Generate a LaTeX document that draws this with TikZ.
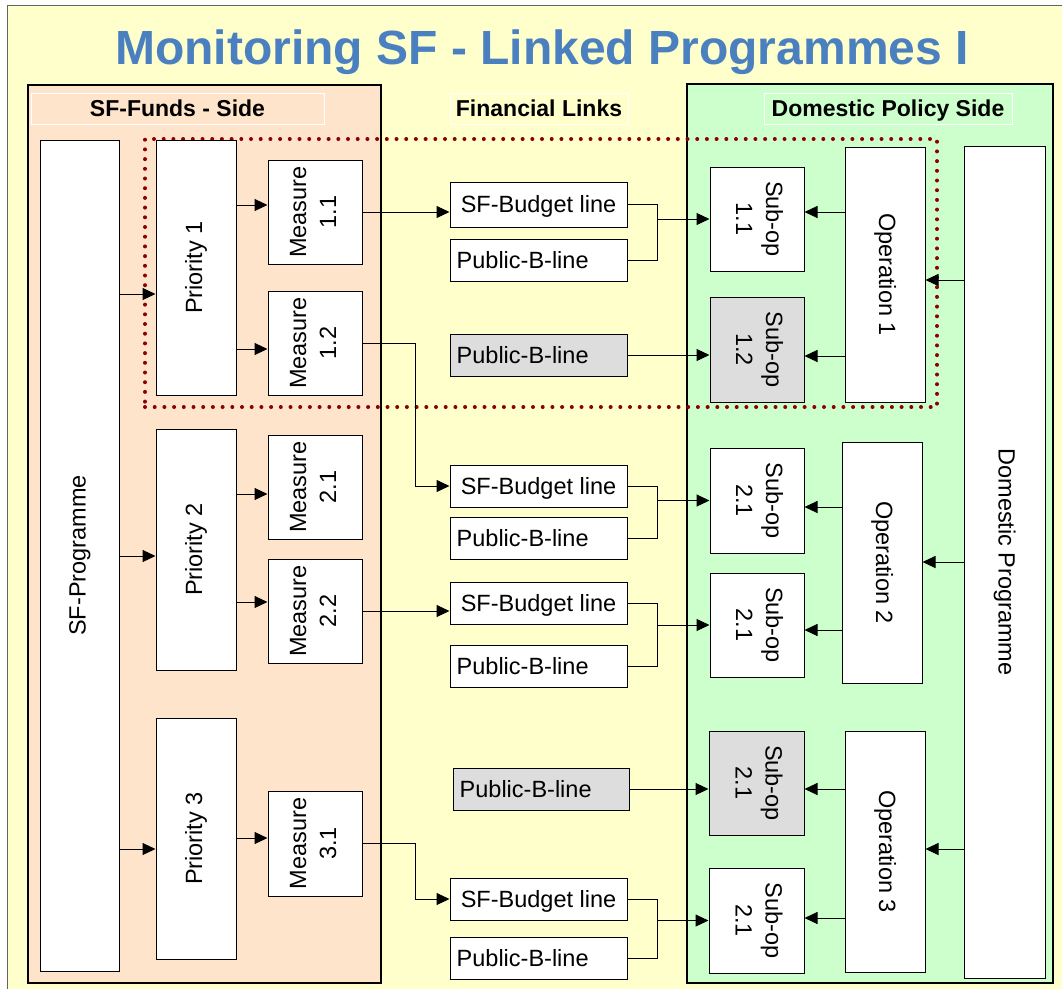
\documentclass[tikz,border=0pt]{standalone}
\usepackage{fontspec}
\setmainfont{Liberation Sans}
\usetikzlibrary{arrows.meta,fit,calc}

\definecolor{bgyellow}{RGB}{255,255,204}
\definecolor{sfpeach}{RGB}{255,228,204}
\definecolor{domgreen}{RGB}{204,255,204}
\definecolor{linkgrey}{RGB}{221,221,221}
\definecolor{titleblue}{RGB}{74,128,192}
\definecolor{dotred}{RGB}{140,0,0}
\definecolor{framegrey}{RGB}{100,100,100}
\definecolor{edgegrey}{RGB}{120,120,120}

% vertical two-line labels, reading upwards or downwards
\newcommand\turnup[1]{\rotatebox{90}{\begin{tabular}{@{}c@{}}#1\end{tabular}}}
\newcommand\turndown[1]{\rotatebox{-90}{\begin{tabular}{@{}c@{}}#1\end{tabular}}}

\begin{document}
\begin{tikzpicture}[x=1pt,y=-1pt,
  box/.style={draw=black, line width=1pt, fill=white, inner sep=0pt},
  greybox/.style={box, fill=linkgrey},
  txt/.style={font=\fontsize{23.5}{30}\selectfont, inner sep=0pt},
  panel/.style={draw=black, line width=1.2pt, inner sep=0pt},
  head/.style={draw=white, line width=0.6pt, inner sep=0pt},
  headtxt/.style={font=\fontsize{23}{27}\selectfont\bfseries, inner sep=0pt, anchor=base},
  arr/.style={draw=black, line width=1pt, -{Triangle[length=13pt,width=12pt]}},
  wire/.style={draw=black, line width=1pt},
  focus/.style={draw=dotred, line width=4pt, line cap=round,
    dash pattern=on 0pt off 9.7pt, inner sep=0pt},
]
\useasboundingbox (0,0) rectangle (1062,989);
\fill[white] (0,0) rectangle (1062,989);
\fill[bgyellow] (7,5) rectangle (1062,989);
\draw[framegrey, line width=1pt] (7,989) -- (7,5) -- (1062,5);

% title
\node[anchor=base, text=titleblue, font=\fontsize{48}{54}\selectfont\bfseries, inner sep=0pt]
  (title) at (542,64) {Monitoring SF - Linked Programmes I};

% the two sides
\node[panel, fill=sfpeach, fit={(28,85)(381,983)}] (sfside) {};
\node[panel, fill=domgreen, fit={(687,84)(1053,983)}] (domside) {};

\node[head, fill=sfpeach, fit={(31,93)(324,124)}] (hsf) {};
\node[headtxt] at ([yshift=-8pt]hsf.center) {SF-Funds - Side};
\node[head, fill=bgyellow, fit={(450,93)(628,124)}] (hfin) {};
\node[headtxt] at ([yshift=-8pt]hfin.center) {Financial Links};
\node[head, fill=domgreen, fit={(764,93)(1012,124)}] (hdom) {};
\node[headtxt] at ([yshift=-8pt]hdom.center) {Domestic Policy Side};

% priority 1 chain
\node[focus, fit={(145,139)(937,407)}] (prio1zone) {};

% SF-funds side
\node[box, fit={(40,140)(119,971)}] (sfp) {};
\node[txt] at (sfp.center) {\turnup{SF-Programme}};
\node[box, fit={(156,140)(236,395)}] (p1) {};
\node[txt] at (p1.center) {\turnup{Priority 1}};
\node[box, fit={(156,429)(236,670)}] (p2) {};
\node[txt] at (p2.center) {\turnup{Priority 2}};
\node[box, fit={(156,718)(236,959)}] (p3) {};
\node[txt] at (p3.center) {\turnup{Priority 3}};

\node[box, fit={(268,160)(362,264)}] (m11) {};
\node[txt] at (m11.center) {\turnup{Measure\\1.1}};
\node[box, fit={(268,291)(362,395)}] (m12) {};
\node[txt] at (m12.center) {\turnup{Measure\\1.2}};
\node[box, fit={(268,435)(362,539)}] (m21) {};
\node[txt] at (m21.center) {\turnup{Measure\\2.1}};
\node[box, fit={(268,559)(362,663)}] (m22) {};
\node[txt] at (m22.center) {\turnup{Measure\\2.2}};
\node[box, fit={(268,791)(362,896)}] (m31) {};
\node[txt] at (m31.center) {\turnup{Measure\\3.1}};

% financial links
\node[box, fit={(450,182)(627,227)}] (sfb1) {};
\node[box, fit={(450,239)(627,281)}] (pb1) {};
\node[greybox, fit={(450,334)(627,376)}] (gpb1) {};
\node[box, fit={(450,465)(627,507)}] (sfb2) {};
\node[box, fit={(450,517)(627,559)}] (pb2) {};
\node[box, fit={(450,582)(627,624)}] (sfb3) {};
\node[box, fit={(450,645)(627,687)}] (pb3) {};
\node[greybox, fit={(453,768)(629,810)}] (gpb2) {};
\node[box, fit={(450,878)(627,920)}] (sfb4) {};
\node[box, fit={(450,937)(627,979)}] (pb4) {};
\foreach \b in {sfb1,sfb2,sfb3,sfb4}
  \node[txt, anchor=base] at ([yshift=-8.4pt]\b.center) {SF-Budget line};
\foreach \b in {pb1,gpb1,pb2,pb3,gpb2,pb4}
  \node[txt, anchor=base west] at ([xshift=7pt,yshift=-8.4pt]\b.west) {Public-B-line};

% domestic policy side
\node[box, fit={(710,167)(804,271)}] (s11) {};
\node[txt] at (s11.center) {\turndown{Sub-op\\1.1}};
\node[greybox, fit={(710,297)(804,402)}] (s12) {};
\node[txt] at (s12.center) {\turndown{Sub-op\\1.2}};
\node[box, fit={(710,448)(804,553)}] (s21) {};
\node[txt] at (s21.center) {\turndown{Sub-op\\2.1}};
\node[box, fit={(710,573)(804,677)}] (s22) {};
\node[txt] at (s22.center) {\turndown{Sub-op\\2.1}};
\node[greybox, fit={(709,731)(804,835)}] (s31) {};
\node[txt] at (s31.center) {\turndown{Sub-op\\2.1}};
\node[box, fit={(709,868)(804,973)}] (s32) {};
\node[txt] at (s32.center) {\turndown{Sub-op\\2.1}};

\node[box, fit={(845,147)(925,402)}] (op1) {};
\node[txt] at (op1.center) {\turndown{Operation 1}};
\node[box, fit={(842,442)(922,683)}] (op2) {};
\node[txt] at (op2.center) {\turndown{Operation 2}};
\node[box, fit={(845,731)(925,972)}] (op3) {};
\node[txt] at (op3.center) {\turndown{Operation 3}};

\node[box, fit={(964,146)(1045,978)}] (dp) {};
\node[txt] at (dp.center) {\turndown{Domestic Programme}};

% programme -> priorities -> measures
\draw[arr] (sfp.east |- 0,294) -- (p1.west |- 0,294);
\draw[arr] (sfp.east |- 0,556) -- (p2.west |- 0,556);
\draw[arr] (sfp.east |- 0,849) -- (p3.west |- 0,849);
\draw[arr] (p1.east |- 0,205) -- (m11.west |- 0,205);
\draw[arr] (p1.east |- 0,349) -- (m12.west |- 0,349);
\draw[arr] (p2.east |- 0,494) -- (m21.west |- 0,494);
\draw[arr] (p2.east |- 0,602) -- (m22.west |- 0,602);
\draw[arr] (p3.east |- 0,838) -- (m31.west |- 0,838);

% measures -> SF budget lines
\coordinate (k1) at (415,0);
\draw[arr] (m11.east) -- (m11.east -| sfb1.west);
\draw[arr] (m12.east) -- (m12.east -| k1) -- (k1 |- sfb2.west) -- (sfb2.west);
\draw[arr] (m22.east) -- (m22.east -| sfb3.west);
\draw[arr] (m31.east) -- (m31.east -| k1) -- (k1 |- sfb4.west) -- (sfb4.west);

% budget lines joined into sub-operations
\coordinate (j1) at (657,0);
\draw[wire] (sfb1.east) -- (sfb1.east -| j1) -- (pb1.east -| j1) -- (pb1.east);
\draw[arr] (j1 |- s11.west) -- (s11.west);
\draw[wire] (sfb2.east) -- (sfb2.east -| j1) -- (pb2.east -| j1) -- (pb2.east);
\draw[arr] (j1 |- s21.west) -- (s21.west);
\draw[wire] (sfb3.east) -- (sfb3.east -| j1) -- (pb3.east -| j1) -- (pb3.east);
\draw[arr] (j1 |- s22.west) -- (s22.west);
\draw[wire] (sfb4.east) -- (sfb4.east -| j1) -- (pb4.east -| j1) -- (pb4.east);
\draw[arr] (j1 |- s32.west) -- (s32.west);
\draw[arr] (gpb1.east) -- (gpb1.east -| s12.west);
\draw[arr] (gpb2.east) -- (gpb2.east -| s31.west);

% operations -> sub-operations
\draw[arr] (op1.west |- 0,212) -- (s11.east |- 0,212);
\draw[arr] (op1.west |- 0,356) -- (s12.east |- 0,356);
\draw[arr] (op2.west |- 0,507) -- (s21.east |- 0,507);
\draw[arr] (op2.west |- 0,630) -- (s22.east |- 0,630);
\draw[arr] (op3.west |- 0,789) -- (s31.east |- 0,789);
\draw[arr] (op3.west |- 0,918) -- (s32.east |- 0,918);

% domestic programme -> operations
\draw[arr] (dp.west |- 0,280) -- (op1.east |- 0,280);
\draw[arr] (dp.west |- 0,562) -- (op2.east |- 0,562);
\draw[arr] (dp.west |- 0,849) -- (op3.east |- 0,849);
\end{tikzpicture}
\end{document}
